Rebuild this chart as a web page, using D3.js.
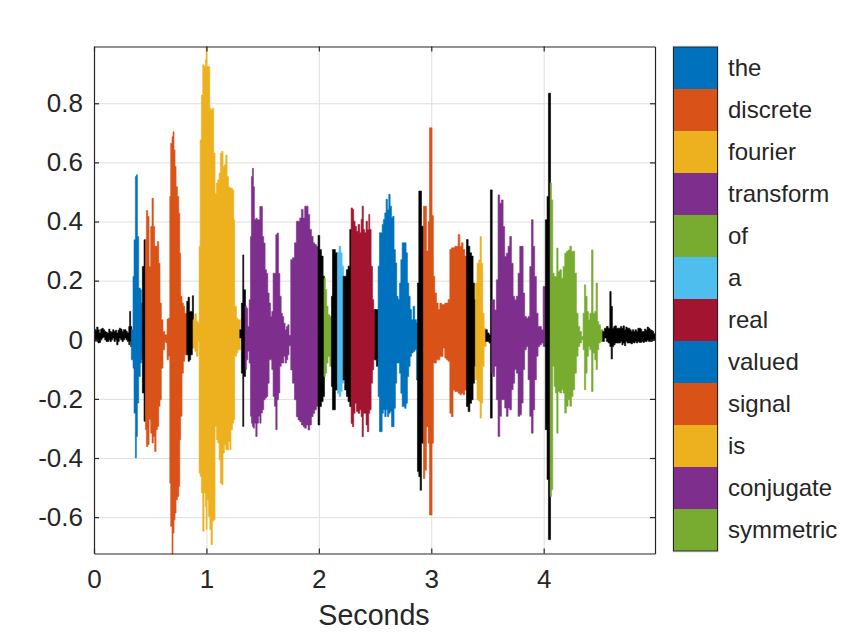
<!DOCTYPE html>
<html>
<head>
<meta charset="utf-8">
<script src="https://cdn.jsdelivr.net/npm/d3@7"></script>
<style>
  body { margin: 0; background: #fff; }
  text { font-family: "Liberation Sans", Arial, sans-serif; fill: #262626; }
</style>
</head>
<body>
<div id="grafico"></div>
<script>
// words of the sentence, colour order and where each one sits (seconds)
var words = ["the", "discrete", "fourier", "transform", "of", "a", "real", "valued", "signal", "is", "conjugate", "symmetric"]
var wordColors = ["#0072BD", "#D95319", "#EDB120", "#7E2F8E", "#77AC30", "#4DBEEE", "#A2142F", "#0072BD", "#D95319", "#EDB120", "#7E2F8E", "#77AC30"]
var wordStart = [.330, .450, .878, 1.340, 2.044, 2.160, 2.280, 2.520, 2.925, 3.390, 3.535, 4.052]
var wordEnd = [.425, .815, 1.285, 1.985, 2.105, 2.212, 2.495, 2.872, 3.305, 3.480, 4.005, 4.515]

var xTicks = [0, 1, 2, 3, 4]
var yTicks = [-.6, -.4, -.2, 0, .2, .4, .6, .8]

// waveform envelope: time, top and bottom of each column
var times = [
  0, .012, .024, .036, .047, .059, .071, .083, .095, .107, .119, .131, .142, .154, .166, .178, .190, .202, .214, .225, .237, .249, .261, .273, .285, .297, .309, .317, .326,
  .332, .347, .356, .368, .377, .386, .398, .412, .421,
  .430, .445,
  .457, .466, .478, .490, .504, .516, .528, .540, .552, .564, .576, .587, .599, .614, .629, .638, .650, .662, .674, .682, .694, .703, .712, .721, .730, .742, .754, .763, .771, .783, .795, .807,
  .825, .837, .849, .860, .875,
  .881, .896, .911, .926, .935, .944, .955, .967, .979, .991, .997, 1.006, 1.018, 1.030, 1.041, 1.053, 1.065, 1.077, 1.089, 1.101, 1.113, 1.124, 1.136, 1.148, 1.160, 1.172, 1.184, 1.196, 1.208, 1.219, 1.231, 1.243, 1.252, 1.267, 1.279,
  1.297, 1.311, 1.323, 1.332,
  1.344, 1.356, 1.368, 1.380, 1.392, 1.400, 1.409, 1.418, 1.427, 1.439, 1.451, 1.463, 1.475, 1.486, 1.498, 1.510, 1.522, 1.534, 1.546, 1.558, 1.570, 1.581, 1.593, 1.605, 1.617, 1.629, 1.641, 1.653, 1.665, 1.676, 1.688, 1.700, 1.712, 1.724, 1.735,
  1.750, 1.765, 1.783, 1.800, 1.815, 1.830, 1.845, 1.860, 1.874, 1.889, 1.904, 1.919, 1.934, 1.949, 1.963, 1.978,
  1.993, 2.008, 2.023, 2.038,
  2.046, 2.058, 2.070, 2.082, 2.097,
  2.112, 2.121, 2.135, 2.147,
  2.165, 2.180, 2.195, 2.207,
  2.216, 2.230, 2.245, 2.260, 2.275,
  2.287, 2.299, 2.310, 2.322, 2.334, 2.349, 2.364, 2.376, 2.385, 2.396, 2.408, 2.420, 2.432, 2.444, 2.453, 2.465, 2.477, 2.488,
  2.500, 2.512,
  2.527, 2.539, 2.551, 2.563, 2.574, 2.586, 2.598, 2.610, 2.622, 2.634, 2.646, 2.657, 2.669, 2.681, 2.693, 2.705, 2.717, 2.729, 2.741, 2.752, 2.764, 2.776, 2.788, 2.800, 2.812, 2.824, 2.838, 2.853, 2.868,
  2.877, 2.889, 2.901, 2.913,
  2.930, 2.942, 2.957, 2.972, 2.984, 2.996, 3.007, 3.019, 3.031, 3.046, 3.061, 3.076, 3.091, 3.105, 3.120, 3.135, 3.150, 3.165, 3.179, 3.194, 3.209, 3.224, 3.239, 3.254, 3.268, 3.283, 3.298,
  3.313, 3.328, 3.343, 3.358, 3.372, 3.384,
  3.392, 3.407, 3.422, 3.434, 3.446, 3.458, 3.470,
  3.484, 3.499, 3.514, 3.526,
  3.538, 3.550, 3.564, 3.579, 3.594, 3.609, 3.624, 3.639, 3.653, 3.668, 3.683, 3.698, 3.713, 3.728, 3.742, 3.757, 3.772, 3.787, 3.802, 3.817, 3.831, 3.846, 3.861, 3.876, 3.891, 3.906, 3.920, 3.935, 3.950, 3.965, 3.980, 3.995,
  4.015, 4.030, 4.042,
  4.057, 4.069, 4.081, 4.093, 4.104, 4.116, 4.128, 4.143, 4.158, 4.172, 4.187, 4.202, 4.217, 4.232, 4.247, 4.261, 4.276, 4.291, 4.306, 4.321, 4.336, 4.350, 4.362, 4.374, 4.386, 4.398, 4.410, 4.425, 4.439, 4.454, 4.466, 4.478, 4.490, 4.505,
  4.525, 4.540, 4.558, 4.573, 4.588, 4.600, 4.611, 4.623, 4.635, 4.647, 4.670, 4.683, 4.695, 4.706, 4.718, 4.730, 4.742, 4.754, 4.766, 4.778, 4.789, 4.801, 4.813, 4.825, 4.837, 4.849, 4.861, 4.872, 4.884, 4.896, 4.908, 4.920, 4.932, 4.944, 4.956, 4.967, 4.979
]
var upper = [
  .036, .032, .043, .034, .023, .036, .039, .034, .028, .025, .023, .036, .028, .025, .034, .028, .032, .023, .032, .039, .036, .028, .034, .034, .028, .023, .045, .096, .045,
  .034, .214, .338, .552, .558, .349, .175, .169, .124,
  .248, .338,
  .338, .437, .417, .248, .383, .479, .383, .316, .316, .332, .259, .124, .068, .028, .017, .017, .070, .073, .485, .665, .687, .704, .642, .586, .518, .485, .428, .293, .147, .124, .113, .090,
  .130, .144, .096, .096, .149,
  .068, .088, .062, .056, .316, .676, .828, .930, .924, .947, .990, .924, .924, .783, .778, .783, .631, .496, .530, .541, .564, .631, .637, .586, .592, .625, .552, .518, .513, .513, .507, .406, .113, .073, .068,
  .034, .124, .287, .169,
  .113, .107, .045, .135, .349, .552, .580, .518, .406, .411, .406, .406, .451, .451, .349, .327, .237, .225, .158, .124, .079, .096, .225, .225, .355, .361, .225, .147, .090, .079, .056, .034, .045, .051, .015,
  .271, .277, .328, .401, .401, .412, .441, .412, .452, .452, .424, .373, .350, .328, .322, .316,
  .353, .305, .283, .215,
  .209, .170, .113, .085, .079,
  .147, .305, .305, .294,
  .294, .316, .294, .249,
  .215, .215, .237, .249, .373,
  .446, .441, .401, .384, .367, .390, .362, .407, .452, .373, .362, .401, .373, .424, .373, .249, .136, .102,
  .102, .102,
  .249, .362, .362, .390, .407, .429, .475, .441, .492, .452, .412, .418, .305, .260, .147, .136, .192, .271, .328, .328, .328, .294, .192, .147, .102, .068, .113, .068, .057,
  .192, .503, .503, .384,
  .452, .452, .300, .400, .717, .717, .420, .215, .158, .124, .102, .124, .119, .119, .124, .124, .136, .305, .311, .311, .316, .316, .356, .316, .328, .305, .283,
  .339, .316, .294, .283, .192, .136,
  .192, .259, .270, .349, .259, .090, .039,
  .034, .023, .017, .507,
  .135, .135, .101, .203, .490, .462, .473, .383, .282, .293, .316, .349, .259, .147, .135, .147, .225, .316, .316, .158, .079, .073, .079, .248, .406, .316, .214, .090, .045, .045, .034, .180,
  .406, .485, .834,
  .530, .473, .225, .214, .214, .310, .231, .237, .208, .248, .293, .299, .304, .316, .299, .299, .225, .090, .045, .028, .011, .090, .186, .147, .096, .068, .090, .304, .090, .096, .192, .062, .051, .034,
  .028, .039, .045, .039, .163, .113, .039, .045, .047, .039, .039, .045, .039, .047, .034, .043, .039, .039, .034, .028, .034, .028, .034, .028, .039, .039, .036, .028, .028, .036, .032, .043, .039, .034, .032, .028, .020
]
var lower = [
  -.006, 0, -.006, -.011, -.009, 0, .006, .009, 0, -.006, -.006, 0, -.006, 0, .006, -.006, 0, -.017, -.006, .006, 0, -.006, 0, .006, 0, -.006, -.017, -.006, -.023,
  -.068, -.096, -.248, -.400, -.327, -.214, -.124, -.079, -.068,
  -.180, -.276,
  -.304, -.361, -.355, -.270, -.316, -.349, -.327, -.378, -.304, -.293, -.225, -.203, -.096, -.034, -.006, -.011, -.068, -.056, -.485, -.631, -.727, -.654, -.609, -.586, -.541, -.530, -.496, -.338, -.259, -.113, -.073, -.051,
  -.051, -.073, -.068, -.051, -.028,
  -.028, -.039, -.056, -.006, -.451, -.462, -.518, -.648, -.518, -.564, -.642, -.541, -.597, -.642, -.693, -.614, -.609, -.293, -.338, -.349, -.406, -.485, -.490, -.383, -.355, -.372, -.372, -.344, -.372, -.304, -.282, -.270, -.056, -.045, -.034,
  .006, -.113, -.293, -.124,
  -.101, -.068, -.039, -.079, -.259, -.282, -.293, -.299, -.282, -.327, -.282, -.259, -.282, -.248, -.237, -.203, -.197, -.192, -.147, -.068, -.068, -.101, -.192, -.225, -.304, -.203, -.180, -.090, -.079, -.079, -.056, -.079, -.068, -.051, -.020,
  -.102, -.147, -.203, -.260, -.271, -.277, -.288, -.294, -.299, -.288, -.305, -.288, -.260, -.249, -.237, -.226,
  -.288, -.226, -.209, -.192,
  -.124, -.113, -.079, -.057, -.090,
  -.158, -.237, -.237, -.170,
  -.181, -.192, -.175, -.147,
  -.136, -.170, -.192, -.209, -.226,
  -.283, -.294, -.249, -.215, -.243, -.249, -.237, -.260, -.328, -.249, -.249, -.288, -.311, -.249, -.237, -.147, -.102, -.068,
  -.068, -.090,
  -.192, -.311, -.311, -.249, -.237, -.260, -.237, -.260, -.249, -.243, -.294, -.294, -.232, -.147, -.079, -.079, -.113, -.181, -.226, -.226, -.232, -.215, -.124, -.090, -.057, -.045, -.040, -.034, -.136,
  -.446, -.463, -.509, -.350,
  -.469, -.441, -.294, -.350, -.593, -.593, -.350, -.079, -.079, -.068, -.068, -.057, -.057, -.028, -.062, -.068, -.073, -.249, -.260, -.170, -.175, -.175, -.181, -.186, -.181, -.186, -.170,
  -.226, -.243, -.215, -.203, -.147, -.090,
  -.135, -.203, -.208, -.265, -.214, -.090, -.023,
  -.006, -.006, -.011, -.265,
  -.113, -.124, -.090, -.203, -.327, -.259, -.203, -.203, -.231, -.259, -.231, -.237, -.169, -.147, -.101, -.113, -.259, -.254, -.214, -.101, -.034, -.023, -.135, -.259, -.316, -.237, -.135, -.056, -.023, -.017, -.011, -.023,
  -.304, -.473, -.676,
  -.530, -.507, -.090, -.158, -.180, -.316, -.175, -.180, -.169, -.180, -.248, -.225, -.203, -.225, -.192, -.169, -.113, -.056, -.023, -.011, 0, -.034, -.169, -.113, -.056, -.023, -.034, -.175, -.045, -.068, -.101, -.034, -.011, -.006,
  -.006, .006, -.006, -.011, -.023, -.065, -.023, -.017, -.011, -.011, -.011, -.006, -.017, -.011, -.020, -.006, -.011, -.011, -.011, -.014, -.009, -.011, -.006, -.011, -.006, -.009, -.009, -.006, -.009, -.006, -.006, -.002, -.006, -.006, -.006, -.002, 0
]

var width = 842,
    height = 632
var left = 94, right = 655, top_ = 46.5, bottom = 553.5

var svg = d3.select("#grafico").append("svg")
    .attr("width", width)
    .attr("height", height)

var xScale = d3.scaleLinear().domain([0, 4.99]).range([left, right])
var yScale = d3.scaleLinear().domain([-.723, .992]).range([bottom, top_])
var fmt = function(d) { return String(+d.toFixed(1)) }

// grid under the waveform
svg.append("g").selectAll("line").data(xTicks).enter().append("line")
    .attr("x1", function(d) { return xScale(d) + .5 }).attr("x2", function(d) { return xScale(d) + .5 })
    .attr("y1", top_).attr("y2", bottom)
    .attr("stroke", "#dfdfdf")
svg.append("g").selectAll("line").data(yTicks).enter().append("line")
    .attr("x1", left).attr("x2", right)
    .attr("y1", function(d) { return yScale(d) + .5 }).attr("y2", function(d) { return yScale(d) + .5 })
    .attr("stroke", "#dfdfdf")

function wordAt(t) {
    return words.findIndex(function(w, i) { return t >= wordStart[i] && t < wordEnd[i] })
}

var columns = times.map(function(t, i) {
    return { t: t, hi: upper[i], lo: lower[i], word: wordAt(t) }
})

// consecutive columns of one colour become one stepped shape, so no seams between them
var runs = []
columns.forEach(function(c) {
    var last = runs[runs.length - 1]
    if (!last || last.word !== c.word) {
        if (last) last.cols.push({ t: c.t + .004, hi: last.cols[last.cols.length - 1].hi, lo: last.cols[last.cols.length - 1].lo })
        runs.push({ word: c.word, cols: [c] })
    } else {
        last.cols.push(c)
    }
})
var lastRun = runs[runs.length - 1]
lastRun.cols.push({ t: 4.99, hi: upper[upper.length - 1], lo: lower[lower.length - 1] })

var area = d3.area()
    .x(function(d) { return xScale(d.t) })
    .y0(function(d) { return yScale(d.lo) })
    .y1(function(d) { return yScale(d.hi) })
    .curve(d3.curveStepAfter)

svg.append("defs").append("clipPath").attr("id", "plot").append("rect")
    .attr("x", left).attr("y", top_)
    .attr("width", right - left).attr("height", bottom - top_ + 1)

svg.append("g").attr("clip-path", "url(#plot)")
    .selectAll("path").data(runs).enter().append("path")
    .attr("d", function(d) { return area(d.cols) })
    .attr("fill", function(d) { return d.word < 0 ? "#000" : wordColors[d.word] })
    .attr("stroke", function(d) { return d.word < 0 ? "#000" : wordColors[d.word] })
    .attr("stroke-width", .6)

// box with inward ticks on all four sides
function styleAxis(g) {
    g.selectAll("path").attr("stroke", "#262626").attr("stroke-width", 1.2)
    g.selectAll("line").attr("stroke", "#262626").attr("stroke-width", 1.2)
    g.selectAll("text").attr("font-size", 26).style("fill", "#262626")
}

svg.append("g").attr("transform", "translate(0," + bottom + ")")
    .call(d3.axisBottom(xScale).tickValues(xTicks).tickFormat(fmt).tickSize(-5).tickPadding(16).tickSizeOuter(0))
    .call(styleAxis)
svg.append("g").attr("transform", "translate(0," + top_ + ")")
    .call(d3.axisTop(xScale).tickValues(xTicks).tickFormat("").tickSize(-5).tickSizeOuter(0))
    .call(styleAxis)
svg.append("g").attr("transform", "translate(" + left + ",0)")
    .call(d3.axisLeft(yScale).tickValues(yTicks).tickFormat(fmt).tickSize(-5).tickPadding(11).tickSizeOuter(0))
    .call(styleAxis)
svg.append("g").attr("transform", "translate(" + right + ",0)")
    .call(d3.axisRight(yScale).tickValues(yTicks).tickFormat("").tickSize(-5).tickSizeOuter(0))
    .call(styleAxis)

svg.append("text")
    .attr("x", 374)
    .attr("y", 625)
    .attr("text-anchor", "middle")
    .attr("font-size", 28.6)
    .text("Seconds")

// colorbar with one cell per word
var barLeft = 673.5, barRight = 717.5
var barScale = d3.scaleBand().domain(words).range([47, 551])

svg.append("rect")
    .attr("x", barLeft - 1).attr("y", 46)
    .attr("width", barRight - barLeft + 2).attr("height", 506)
    .attr("fill", "none").attr("stroke", "#e6e6e6")

svg.append("g").selectAll("rect").data(words).enter().append("rect")
    .attr("x", barLeft)
    .attr("y", function(d) { return barScale(d) })
    .attr("width", barRight - barLeft)
    .attr("height", barScale.bandwidth())
    .attr("fill", function(d, i) { return wordColors[i] })

svg.append("rect")
    .attr("x", barLeft).attr("y", 47)
    .attr("width", barRight - barLeft).attr("height", 504)
    .attr("fill", "none").attr("stroke", "#262626").attr("stroke-width", 1)

svg.append("g").selectAll("text").data(words).enter().append("text")
    .attr("x", 728)
    .attr("y", function(d) { return barScale(d) + barScale.bandwidth() / 2 })
    .attr("dy", ".35em")
    .attr("font-size", 24)
    .text(function(d) { return d })
</script>
</body>
</html>
